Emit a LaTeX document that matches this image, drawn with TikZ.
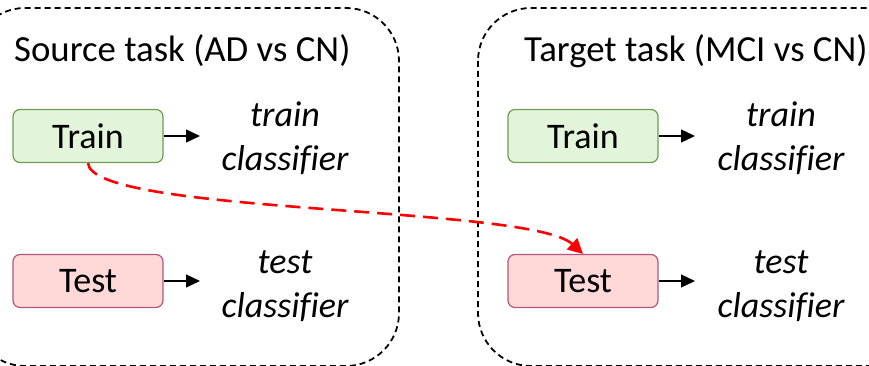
\documentclass[tikz,border=0pt]{standalone}
\usepackage{fontspec}
\setmainfont{Carlito}[Ligatures=NoCommon]
\usetikzlibrary{arrows.meta}
\definecolor{trainfill}{HTML}{E2F4D9}
\definecolor{trainline}{HTML}{6E9C52}
\definecolor{testfill}{HTML}{FFD8D8}
\definecolor{testline}{HTML}{B2587E}
\definecolor{linkred}{HTML}{FF0000}
\tikzset{
  taskframe/.style={draw=black, line width=1.8pt, dash pattern=on 6pt off 4pt, rounded corners=53pt},
  phasebox/.style={minimum width=150pt, minimum height=53pt, rounded corners=7pt, line width=1.2pt,
    inner sep=0pt, font=\fontsize{36}{44}\selectfont},
  trainbox/.style={phasebox, draw=trainline, fill=trainfill},
  testbox/.style={phasebox, draw=testline, fill=testfill},
  outcome/.style={align=center, font=\fontsize{36}{44}\selectfont\itshape, inner sep=0pt},
  tasktitle/.style={anchor=base west, inner sep=0pt, font=\fontsize{36.8}{44}\selectfont},
  steparrow/.style={draw=black, line width=1.3pt, -{Triangle[length=14pt,width=13pt]}},
  transfer/.style={draw=linkred, line width=2.6pt, dash pattern=on 15pt off 8pt,
    -{Triangle[length=15pt,width=15pt]}}
}
\begin{document}
\begin{tikzpicture}[x=1pt, y=-1pt]
  \useasboundingbox (0,0) rectangle (869,366);
  \clip (0,0) rectangle (869,366);

  % task frames
  \draw[taskframe] (-28,8) rectangle (399,366);
  \draw[taskframe] (478,8) rectangle (920,366);

  % titles
  \node[tasktitle] (srctitle) at (14,62) {Source task (AD vs CN)};
  \node[tasktitle] (tgttitle) at (524,62) {Target task (MCI vs CN)};

  % source task
  \node[trainbox] (srctrain) at (88,136) {Train};
  \node[testbox]  (srctest)  at (88,281) {Test};
  \coordinate (srctrainend) at (200,136);
  \coordinate (srctestend)  at (200,281);
  \node[outcome] (srctrainout) at (285,138) {train\\classifier};
  \node[outcome] (srctestout)  at (285,286) {test\\classifier};
  \draw[steparrow] (srctrain.east) -- (srctrainend);
  \draw[steparrow] (srctest.east) -- (srctestend);

  % target task
  \node[trainbox] (tgttrain) at (583,136) {Train};
  \node[testbox]  (tgttest)  at (583,281) {Test};
  \coordinate (tgttrainend) at (695,136);
  \coordinate (tgttestend)  at (695,281);
  \node[outcome] (tgttrainout) at (781,138) {train\\classifier};
  \node[outcome] (tgttestout)  at (781,286) {test\\classifier};
  \draw[steparrow] (tgttrain.east) -- (tgttrainend);
  \draw[steparrow] (tgttest.east) -- (tgttestend);

  % transfer from source training to target testing
  \draw[transfer] (srctrain.south) .. controls (92,215) and (530,205) .. (tgttest.north);
\end{tikzpicture}
\end{document}
